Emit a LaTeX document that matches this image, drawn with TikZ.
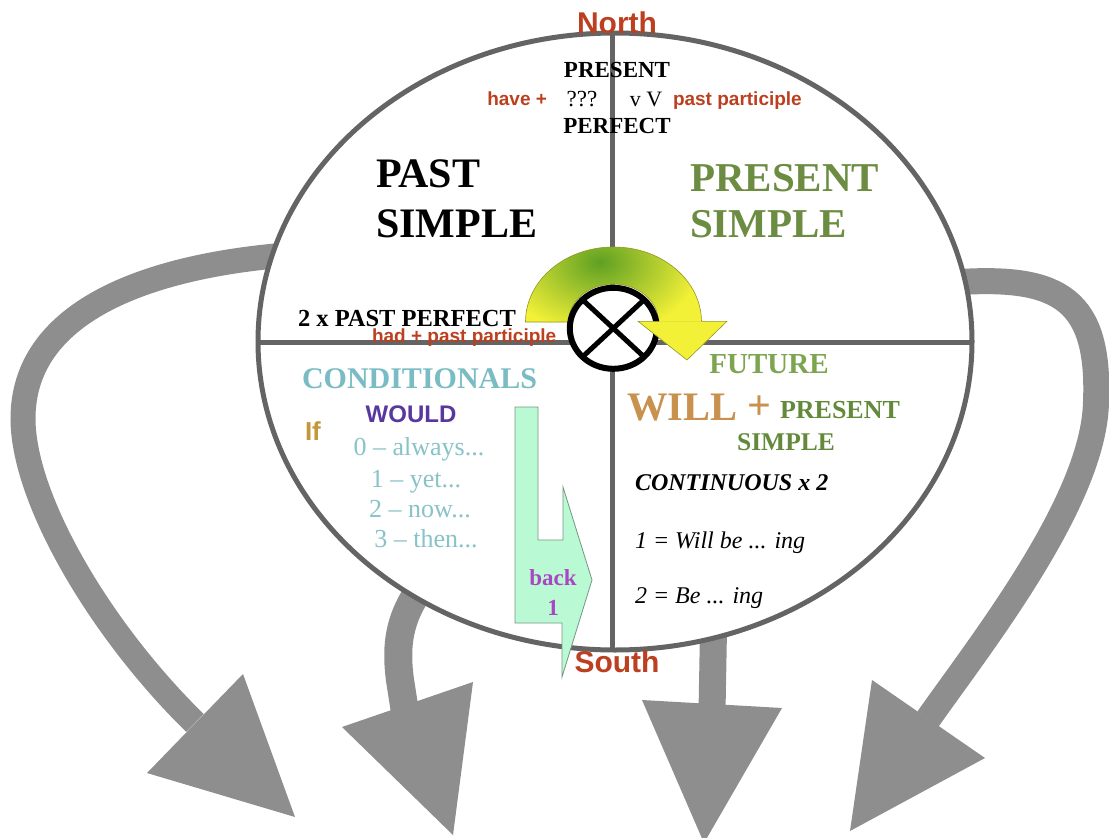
\documentclass[tikz,border=0pt]{standalone}
\usepackage{fontspec}
\setmainfont{Liberation Serif}
\newfontfamily\sansf{Liberation Sans}
\newcommand\fsz[1]{\fontsize{#1}{#1}\selectfont}
\definecolor{rust}{RGB}{188,64,32}
\definecolor{greenA}{RGB}{108,140,66}
\definecolor{greenB}{RGB}{125,165,80}
\definecolor{greenC}{RGB}{98,138,58}
\definecolor{tan}{RGB}{200,145,78}
\definecolor{tealA}{RGB}{122,188,196}
\definecolor{tealB}{RGB}{135,195,200}
\definecolor{wouldpurple}{RGB}{88,56,158}
\definecolor{ifgold}{RGB}{196,152,58}
\definecolor{backmag}{RGB}{170,70,196}
\definecolor{mint}{RGB}{185,250,212}
\definecolor{mintedge}{RGB}{120,150,130}
\definecolor{rimgray}{RGB}{100,100,100}
\definecolor{arrowgray}{RGB}{142,142,142}
\definecolor{bandyellow}{RGB}{242,240,55}
\definecolor{bandgreen}{RGB}{95,160,35}
\definecolor{bandedge}{RGB}{150,150,40}
\begin{document}
\begin{tikzpicture}[x=1pt,y=-1pt,
  every node/.style={inner sep=0pt,outer sep=0pt},
  rim/.style={draw=rimgray,line width=5pt},
  gshaft/.style={draw=arrowgray,line width=#1},
  ghead/.style={fill=arrowgray},
  sb/.style={font=\sansf\bfseries\fsz{#1}},
  rb/.style={font=\bfseries\fsz{#1}},
  rr/.style={font=\fsz{#1}}]
\useasboundingbox[fill=white] (0,0) rectangle (1109,838);

% grey arrows (under the rim)
\coordinate (a1s) at (275,256);
\coordinate (a1b) at (195,723);
\draw[gshaft=25pt] (a1s) .. controls (150,268) and (22,310) .. (23,420)
      .. controls (24,500) and (100,630) .. (a1b);
\fill[ghead] (147,773) -- (243,674) -- (295,817) -- cycle;

\coordinate (a2s) at (414,598);
\coordinate (a2b) at (405,712);
\draw[gshaft=28pt] (a2s) .. controls (398,625) and (396,650) .. (400,680) -- (a2b);
\fill[ghead] (342,727) -- (473,682) -- (453,835) -- cycle;

\coordinate (a3s) at (713.5,630);
\coordinate (a3b) at (712,712);
\draw[gshaft=27pt] (a3s) -- (a3b);
\fill[ghead] (642,700) -- (782,708) -- (704,843) -- cycle;

\coordinate (a4s) at (960,282);
\coordinate (a4b) at (928,719);
\draw[gshaft=26pt] (a4s) .. controls (1060,276) and (1100,300) .. (1096,402)
      .. controls (1094,500) and (983,641) .. (a4b);
\fill[ghead] (872,680) -- (985,758) -- (850,831) -- cycle;

% the rim and the quarters
\draw[rim,fill=white] (615,341.5) ellipse [x radius=357pt, y radius=308.5pt];
\draw[rim] (612.5,33) -- (612.5,650);
\draw[rim] (258,342) -- (972,342);

% yellow/green curved arrow
\path[save path=\bandp]
  (525.5,322) arc[start angle=180, end angle=0, x radius=88pt, y radius=75pt]
  -- (658.5,322) arc[start angle=0, end angle=180, x radius=45pt, y radius=38pt]
  -- cycle;
\fill[bandyellow, use path=\bandp];
\begin{scope}
  \clip[use path=\bandp];
  \shade[inner color=bandgreen, outer color=bandyellow] (600,262) ellipse [x radius=100pt, y radius=72pt];
\end{scope}
\draw[bandedge, line width=0.6pt, use path=\bandp];
\draw[line width=6pt, fill=white] (613.3,328.3) ellipse [x radius=43.5pt, y radius=40.5pt];
\draw[line width=5pt] (582.5,299.7) -- (644.1,356.9);
\draw[line width=5pt] (644.1,299.7) -- (582.5,356.9);
\fill[bandyellow] (638,321.3) -- (727,321.3) -- (687,360) -- cycle;
\draw[bandedge, line width=0.6pt] (701.5,321.3) -- (727,321.3) -- (687,360) -- (638,321.3) -- (658.5,321.3);

% mint arrow
\draw[draw=mintedge, fill=mint, line width=0.8pt]
  (515,407) -- (538,407) -- (538,540) -- (563,540) -- (563,487) -- (592,580)
  -- (562,677) -- (562,623) -- (515,623) -- cycle;

% texts
\node[sb=30, text=rust, anchor=base] (north) at (617,33) {North};
\node[sb=30, text=rust, anchor=base] (south) at (617,672) {South};

\node[rb=23, anchor=base] (pp1) at (617,77) {PRESENT};
\node[rb=23, anchor=base] (pp2) at (617,133) {PERFECT};
\node[rr=23, anchor=base] (qqq) at (582,106) {???};
\node[rr=22, anchor=base] (vv) at (646,106) {v V};
\node[sb=19, text=rust, anchor=base east] (have) at (547,105) {have +};
\node[sb=19, text=rust, anchor=base west] (pastp) at (673,105) {past participle};

\node[rb=42, anchor=base west] (past) at (376,187) {PAST};
\node[rb=42, anchor=base west] (simple) at (376,237) {SIMPLE};
\node[rb=41, text=greenA, anchor=base west] (ps1) at (690,191) {PRESENT};
\node[rb=41, text=greenA, anchor=base west] (ps2) at (690,237) {SIMPLE};

\node[rb=24.5, anchor=base west] (ppf) at (298,326) {2 x PAST PERFECT};
\node[sb=19, text=rust, anchor=base west] (had) at (372,342) {had + past participle};

\node[rb=30, text=tealA, anchor=base west] (cond) at (302,388) {CONDITIONALS};
\node[sb=24, text=wouldpurple, anchor=base] (would) at (411,422) {WOULD};
\node[sb=26, text=ifgold, anchor=base west] (if) at (305,440) {If};
\node[rr=26, text=tealB, anchor=base] (c0) at (419,455) {0 – always...};
\node[rr=26, text=tealB, anchor=base] (c1) at (416,487) {1 – yet...};
\node[rr=26, text=tealB, anchor=base] (c2) at (420,517) {2 – now...};
\node[rr=26, text=tealB, anchor=base] (c3) at (426,547) {3 – then...};
\node[rb=23, text=backmag, anchor=base] (back) at (553,585) {back};
\node[rb=23, text=backmag, anchor=base] (one) at (553,615) {1};

\node[rb=29, text=greenB, anchor=base] (fut) at (769,373) {FUTURE};
\node[rb=40.5, text=tan, anchor=base west] (will) at (627,420) {WILL};
\node[rb=42, text=tan, anchor=base] (plus) at (759,419) {+};
\node[rb=26, text=greenC, anchor=base west] (pres3) at (780,418) {PRESENT};
\node[rb=25.5, text=greenC, anchor=base] (simp3) at (786,450) {SIMPLE};

\node[font=\bfseries\itshape\fsz{24}, anchor=base west] (cont) at (635,490) {CONTINUOUS x 2};
\node[font=\itshape\fsz{24}, anchor=base west] (will1) at (635,548) {1 = Will be ... ing};
\node[font=\itshape\fsz{24}, anchor=base west] (be2) at (635,603) {2 = Be ... ing};
\end{tikzpicture}
\end{document}
